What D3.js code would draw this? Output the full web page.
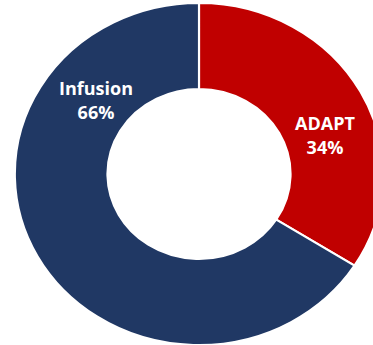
<!DOCTYPE html>
<html>
<head>
<meta charset="utf-8">
<script src="https://cdn.jsdelivr.net/npm/d3@7"></script>
<style>
  html, body { margin: 0; padding: 0; background: #ffffff; }
  svg { display: block; }
</style>
</head>
<body>
<svg id="chart" width="373" height="345"></svg>
<script>
// Share of patients by treatment type
const categories = ["ADAPT", "Infusion"];
const shares = [34, 66];
const colors = ["#C00000", "#203864"];

const width = 373, height = 345;
const cx = 199, cy = 174;
const outerR = 171, innerR = 85;
const stretchX = 1.077; // ring is drawn slightly wider than tall

// Label anchors (centre of the two-line label)
const labelPos = {
  "ADAPT": [325, 136],
  "Infusion": [96, 101]
};

const svg = d3.select("#chart");

const pie = d3.pie().sort(null).value(d => d.value);
const arc = d3.arc().innerRadius(innerR).outerRadius(outerR);

const data = categories.map((c, i) => ({ name: c, value: shares[i], color: colors[i] }));

const ring = svg.append("g")
  .attr("transform", `translate(${cx},${cy}) scale(${stretchX},1)`);

ring.selectAll("path")
  .data(pie(data))
  .join("path")
  .attr("d", arc)
  .attr("fill", d => d.data.color)
  .attr("stroke", "#ffffff")
  .attr("stroke-width", 2)
  .attr("stroke-linejoin", "miter");

const labels = svg.append("g")
  .attr("font-family", "'Open Sans', 'DejaVu Sans', sans-serif")
  .attr("font-weight", "bold")
  .attr("font-size", 18)
  .attr("fill", "#ffffff")
  .attr("text-anchor", "middle");

data.forEach(d => {
  const [x, y] = labelPos[d.name];
  const t = labels.append("text").attr("x", x).attr("y", y - 6);
  t.append("tspan").attr("x", x).attr("dy", 0).text(d.name);
  t.append("tspan").attr("x", x).attr("dy", 24).text(d.value + "%");
});
</script>
</body>
</html>
